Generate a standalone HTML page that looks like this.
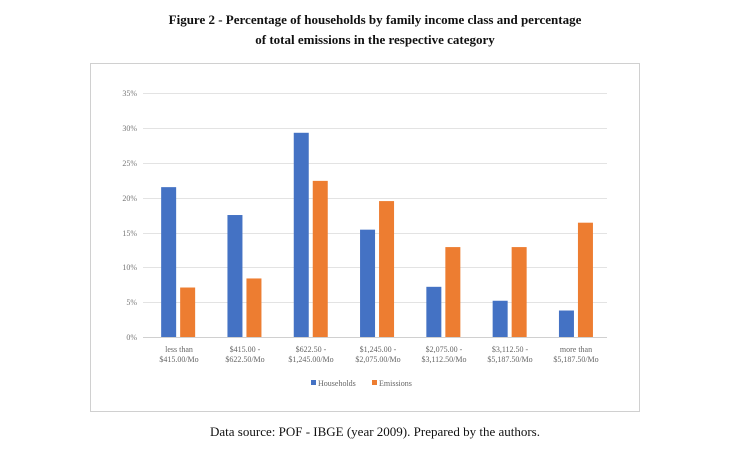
<!DOCTYPE html>
<html><head><style>
body{margin:0;width:750px;height:456px;background:#fff;font-family:"Liberation Serif",serif;position:relative;overflow:hidden}
.t{position:absolute;left:0;width:750px;text-align:center;font-weight:bold;font-size:13px;color:#111}
</style></head><body>
<div class="t" style="top:12px">Figure 2 - Percentage of households by family income class and percentage</div>
<div class="t" style="top:32px">of total emissions in the respective category</div>
<div style="position:absolute;left:90px;top:63px;width:548px;height:347px;border:1px solid #d0d0d0"></div>
<svg style="position:absolute;left:0;top:0" width="750" height="456" font-family="Liberation Serif,serif">
<g stroke="#e3e3e3" stroke-width="1">
<line x1="143" x2="607" y1="93.5" y2="93.5"/><line x1="143" x2="607" y1="128.5" y2="128.5"/>
<line x1="143" x2="607" y1="163.5" y2="163.5"/><line x1="143" x2="607" y1="198.5" y2="198.5"/>
<line x1="143" x2="607" y1="233.5" y2="233.5"/><line x1="143" x2="607" y1="267.5" y2="267.5"/>
<line x1="143" x2="607" y1="302.5" y2="302.5"/></g>
<line x1="143" x2="607" y1="337.5" y2="337.5" stroke="#d0d0d0"/>
<g font-size="8" fill="#777" text-anchor="end">
<text x="137" y="96">35%</text><text x="137" y="131">30%</text><text x="137" y="166">25%</text>
<text x="137" y="201">20%</text><text x="137" y="236">15%</text><text x="137" y="270">10%</text>
<text x="137" y="305">5%</text><text x="137" y="340">0%</text></g>
<g id="b"></g>
<g font-size="8" fill="#666" text-anchor="middle">
<text x="179" y="352">less than</text><text x="179" y="362">$415.00/Mo</text>
<text x="245" y="352">$415.00 -</text><text x="245" y="362">$622.50/Mo</text>
<text x="311" y="352">$622.50 -</text><text x="311" y="362">$1,245.00/Mo</text>
<text x="378" y="352">$1,245.00 -</text><text x="378" y="362">$2,075.00/Mo</text>
<text x="444" y="352">$2,075.00 -</text><text x="444" y="362">$3,112.50/Mo</text>
<text x="510" y="352">$3,112.50 -</text><text x="510" y="362">$5,187.50/Mo</text>
<text x="576" y="352">more than</text><text x="576" y="362">$5,187.50/Mo</text>
</g>
<rect x="311" y="380" width="5" height="5" fill="#4472c4"/><text x="318" y="386" font-size="8" fill="#666">Households</text>
<rect x="372" y="380" width="5" height="5" fill="#ed7d31"/><text x="379" y="386" font-size="8" fill="#666">Emissions</text>
<text x="375" y="436" font-size="13" fill="#111" text-anchor="middle">Data source: POF - IBGE (year 2009). Prepared by the authors.</text>
</svg>
<script>
var h=[21.5,17.5,29.3,15.4,7.2,5.2,3.8],e=[7.1,8.4,22.4,19.5,12.9,12.9,16.4],s='',k=6.97;
for(var i=0;i<7;i++){var c=145+66.3*i+33.15;
s+='<rect x="'+(c-17)+'" y="'+(337-h[i]*k)+'" width="15" height="'+h[i]*k+'" fill="#4472c4"/>';
s+='<rect x="'+(c+2)+'" y="'+(337-e[i]*k)+'" width="15" height="'+e[i]*k+'" fill="#ed7d31"/>';}
document.getElementById('b').innerHTML=s;
</script>
</body></html>
